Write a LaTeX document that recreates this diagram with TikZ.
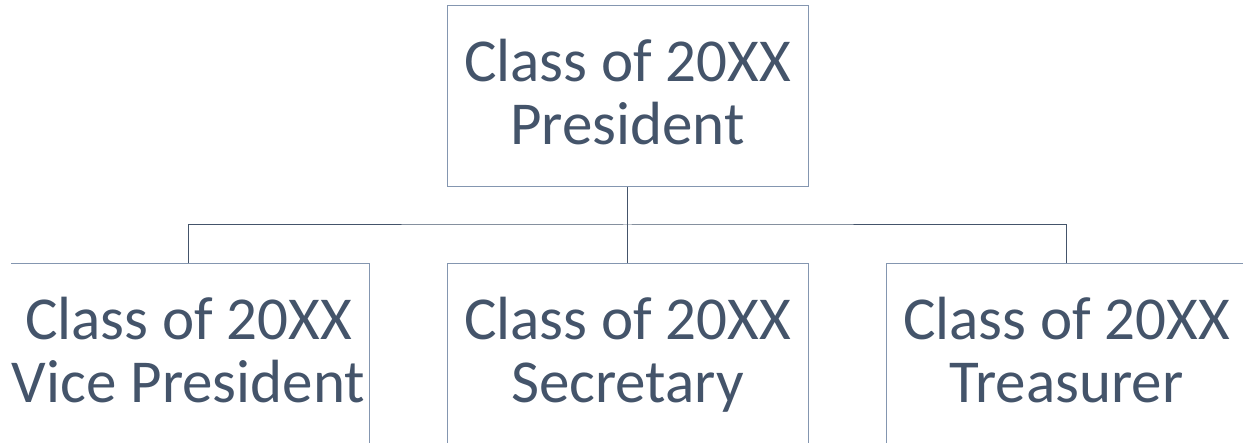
\documentclass[tikz,border=0pt]{standalone}
\usepackage{fontspec}
\setmainfont{Carlito}
\usetikzlibrary{positioning}

\definecolor{officetext}{HTML}{44546A}
\definecolor{boxline}{HTML}{8496B0}

% line strut: 48pt above, 14pt below the baseline
\newcommand{\lstrut}{\rule[-14pt]{0pt}{62pt}}

\begin{document}
\begin{tikzpicture}[
    x=1pt, y=-1pt,
    every node/.style={font=\fontsize{61}{63}\selectfont, text=officetext},
    officebox/.style={draw=boxline, line width=1pt, minimum width=361pt,
        minimum height=181pt, inner sep=0pt, align=center},
    wire/.style={draw=officetext, line width=1pt}
]

% Parameters
\def\boxgap{77}   % horizontal gap between the lower boxes
\def\rowgap{76}   % vertical gap between the two rows

% === Frame of the picture ===
\useasboundingbox (0,0) rectangle (1243,443);
\clip (11,0) rectangle (1243,443);

% === Top box ===
\node[officebox] (pres) at (627.5,96.5) {\lstrut Class of 20XX\\\lstrut President};

% === Lower row ===
\node[officebox, below=\rowgap pt of pres] (sec) {\lstrut Class of 20XX\\\lstrut Secretary};
\node[officebox, left=\boxgap pt of sec] (vp) {\lstrut Class of 20XX\\\lstrut Vice President};
\node[officebox, right=\boxgap pt of sec] (tre) {\lstrut Class of 20XX\\\lstrut Treasurer};

% === Connectors ===
\coordinate (bus) at (627.5,225);
\draw[wire] (pres.south) -- (sec.north);
\draw[wire] (vp.north) |- (bus) -| (tre.north);

\end{tikzpicture}
\end{document}
